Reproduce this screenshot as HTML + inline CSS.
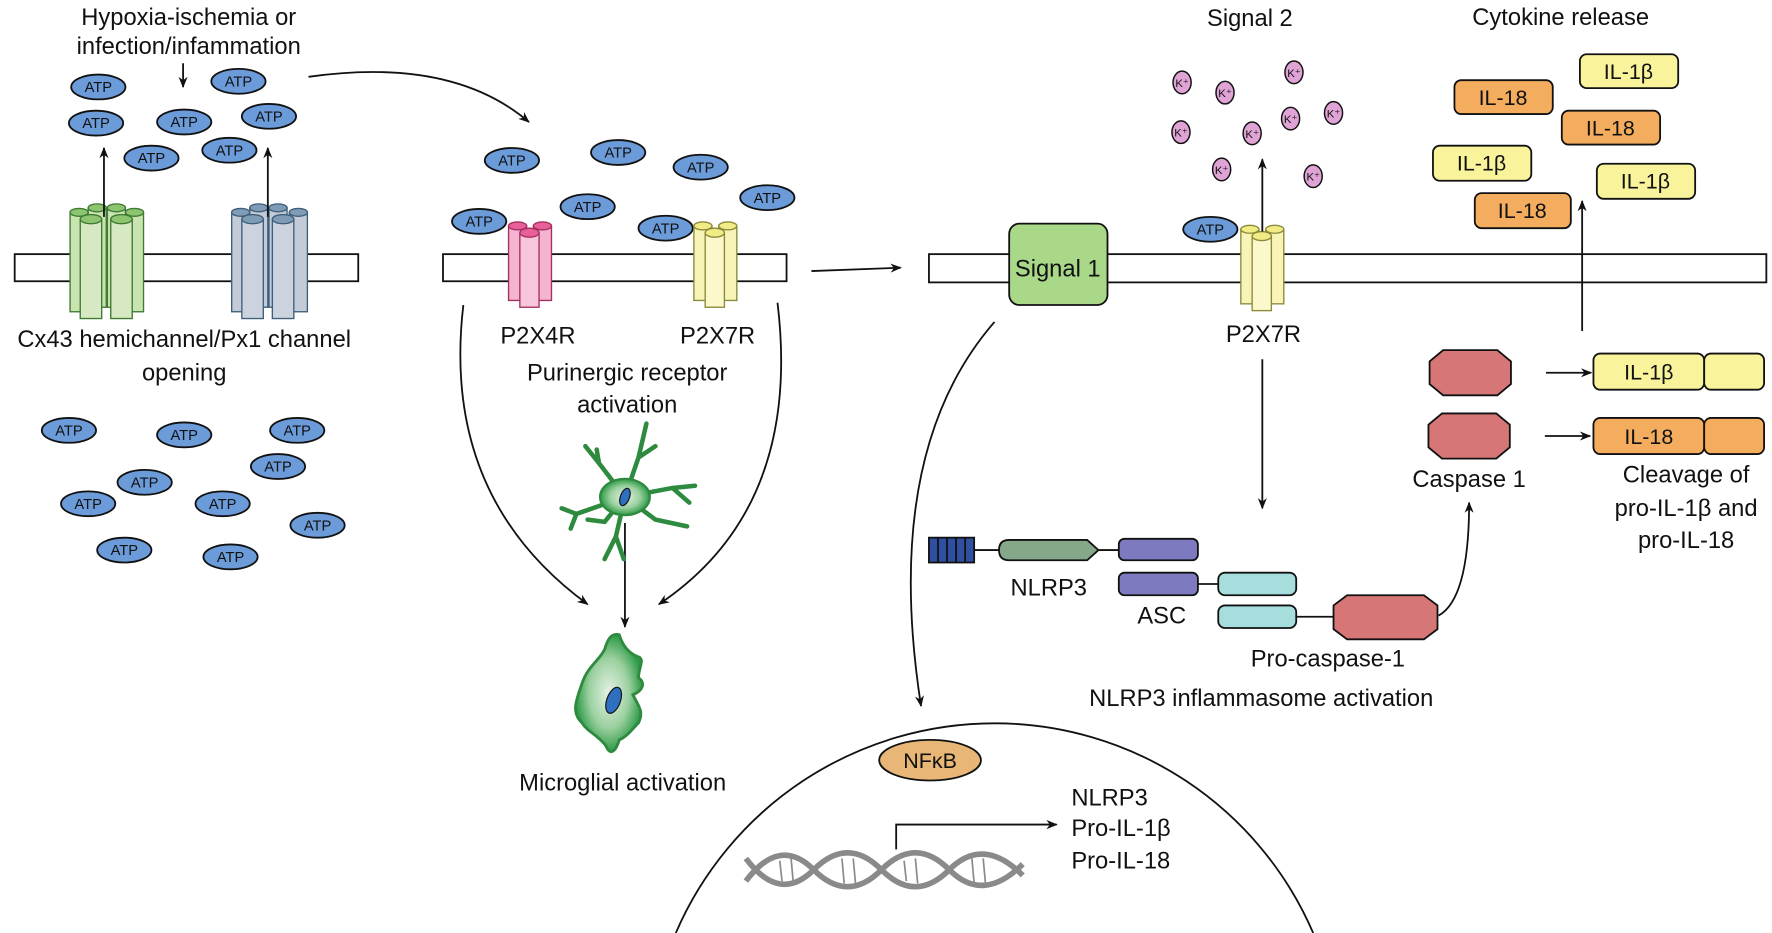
<!DOCTYPE html>
<html><head><meta charset="utf-8"><style>
html,body{margin:0;padding:0;background:#fff;}
svg{display:block;}
text{font-family:"Liberation Sans Narrow","Liberation Sans",sans-serif;fill:#111;}
</style></head><body>
<svg width="1772" height="933" viewBox="0 0 1568 826" preserveAspectRatio="none" xmlns="http://www.w3.org/2000/svg">
<defs>
<marker id="ah" markerWidth="10" markerHeight="10" refX="9" refY="5" orient="auto" markerUnits="userSpaceOnUse"><path d="M0,1 L10,5 L0,9 L3,5 Z" fill="#111"/></marker>
<radialGradient id="mg" cx="50%" cy="50%" r="50%"><stop offset="0" stop-color="#e6f2e6"/><stop offset="0.6" stop-color="#9bd09f"/><stop offset="1" stop-color="#2e9a48"/></radialGradient>
<g id="atp"><ellipse cx="0" cy="0" rx="24" ry="11" fill="#6b9bd8" stroke="#111" stroke-width="1.6"/><text x="0" y="4.5" font-size="13" text-anchor="middle">ATP</text></g>
<g id="kp"><ellipse cx="0" cy="0" rx="8" ry="10" fill="#e0a3d6" stroke="#111" stroke-width="1.3"/><text x="0" y="4" font-size="10" text-anchor="middle">K⁺</text></g>
</defs>
<g stroke="#111" stroke-width="1.6" fill="none">
<!-- membranes -->
<rect x="13" y="225" width="304" height="24" fill="#fff"/>
<rect x="392" y="225" width="304" height="24" fill="#fff"/>
<rect x="822" y="225" width="741" height="25" fill="#fff"/>
</g>
<text x="167" y="22" font-size="21" text-anchor="middle">Hypoxia-ischemia or</text>
<text x="167" y="48" font-size="21" text-anchor="middle">infection/infammation</text>
<line x1="162" y1="56" x2="162" y2="77" stroke="#111" stroke-width="1.6" marker-end="url(#ah)"/>
<use href="#atp" x="87" y="77"/><use href="#atp" x="211" y="72"/><use href="#atp" x="85" y="109"/><use href="#atp" x="163" y="108"/><use href="#atp" x="238" y="103"/><use href="#atp" x="134" y="140"/><use href="#atp" x="203" y="133"/>
<!-- green channel -->
<g stroke="#3f7a33" stroke-width="1.2">
<rect x="62" y="188" width="16" height="88" fill="#c9e4b0"/><rect x="111" y="188" width="16" height="88" fill="#c9e4b0"/>
<rect x="78" y="184" width="16" height="88" fill="#c9e4b0"/><rect x="95" y="184" width="16" height="88" fill="#c9e4b0"/>
<ellipse cx="86" cy="184" rx="8" ry="3.5" fill="#8cc46f"/><ellipse cx="103" cy="184" rx="8" ry="3.5" fill="#8cc46f"/>
<ellipse cx="70" cy="188" rx="8" ry="3.5" fill="#8cc46f"/><ellipse cx="119" cy="188" rx="8" ry="3.5" fill="#8cc46f"/>
<rect x="71" y="194" width="19" height="88" fill="#d6e9c3"/><rect x="98" y="194" width="19" height="88" fill="#d6e9c3"/>
<ellipse cx="80.5" cy="194" rx="9.5" ry="4" fill="#8cc46f"/><ellipse cx="107.5" cy="194" rx="9.5" ry="4" fill="#8cc46f"/>
</g>
<!-- blue channel -->
<g stroke="#3f5f7a" stroke-width="1.2">
<rect x="205" y="188" width="16" height="88" fill="#c3cbd8"/><rect x="256" y="188" width="16" height="88" fill="#c3cbd8"/>
<rect x="221" y="184" width="16" height="88" fill="#c3cbd8"/><rect x="238" y="184" width="16" height="88" fill="#c3cbd8"/>
<ellipse cx="229" cy="184" rx="8" ry="3.5" fill="#7f9cb6"/><ellipse cx="246" cy="184" rx="8" ry="3.5" fill="#7f9cb6"/>
<ellipse cx="213" cy="188" rx="8" ry="3.5" fill="#7f9cb6"/><ellipse cx="264" cy="188" rx="8" ry="3.5" fill="#7f9cb6"/>
<rect x="214" y="194" width="19" height="88" fill="#ccd3de"/><rect x="241" y="194" width="19" height="88" fill="#ccd3de"/>
<ellipse cx="223.5" cy="194" rx="9.5" ry="4" fill="#7f9cb6"/><ellipse cx="250.5" cy="194" rx="9.5" ry="4" fill="#7f9cb6"/>
</g>
<line x1="92" y1="192" x2="92" y2="131" stroke="#111" stroke-width="1.6" marker-end="url(#ah)"/>
<line x1="237" y1="192" x2="237" y2="131" stroke="#111" stroke-width="1.6" marker-end="url(#ah)"/>
<text x="163" y="307" font-size="21" text-anchor="middle">Cx43 hemichannel/Px1 channel</text>
<text x="163" y="337" font-size="21" text-anchor="middle">opening</text>
<use href="#atp" x="61" y="381"/><use href="#atp" x="163" y="385"/><use href="#atp" x="263" y="381"/><use href="#atp" x="246" y="413"/><use href="#atp" x="128" y="427"/><use href="#atp" x="78" y="446"/><use href="#atp" x="197" y="446"/><use href="#atp" x="281" y="465"/><use href="#atp" x="110" y="487"/><use href="#atp" x="204" y="493"/>
<path d="M273,68 Q400,50 468,108" stroke="#111" stroke-width="1.6" fill="none" marker-end="url(#ah)"/>
<!-- second panel -->
<use href="#atp" x="453" y="142"/><use href="#atp" x="547" y="135"/><use href="#atp" x="620" y="148"/><use href="#atp" x="520" y="183"/><use href="#atp" x="679" y="175"/><use href="#atp" x="424" y="196"/><use href="#atp" x="589" y="202"/>
<g stroke="#a53060" stroke-width="1.2">
<rect x="450" y="200" width="16" height="66" fill="#f4b4cf"/><rect x="472" y="200" width="16" height="66" fill="#f4b4cf"/>
<ellipse cx="458" cy="200" rx="8" ry="3.5" fill="#e8609a"/><ellipse cx="480" cy="200" rx="8" ry="3.5" fill="#e8609a"/>
<rect x="460" y="206" width="17" height="66" fill="#f8c6da"/><ellipse cx="468.5" cy="206" rx="8.5" ry="4" fill="#e8609a"/>
</g>
<g stroke="#8a8a3a" stroke-width="1.2">
<rect x="614" y="200" width="16" height="66" fill="#f8f4b8"/><rect x="636" y="200" width="16" height="66" fill="#f8f4b8"/>
<ellipse cx="622" cy="200" rx="8" ry="3.5" fill="#f2ec86"/><ellipse cx="644" cy="200" rx="8" ry="3.5" fill="#f2ec86"/>
<rect x="624" y="206" width="17" height="66" fill="#fbf8cc"/><ellipse cx="632.5" cy="206" rx="8.5" ry="4" fill="#f2ec86"/>
</g>
<text x="476" y="304" font-size="21" text-anchor="middle">P2X4R</text>
<text x="635" y="304" font-size="21" text-anchor="middle">P2X7R</text>
<text x="555" y="337" font-size="21" text-anchor="middle">Purinergic receptor</text>
<text x="555" y="365" font-size="21" text-anchor="middle">activation</text>
<path d="M410,270 Q390,440 520,535" stroke="#111" stroke-width="1.6" fill="none" marker-end="url(#ah)"/>
<path d="M688,268 Q710,450 583,535" stroke="#111" stroke-width="1.6" fill="none" marker-end="url(#ah)"/>
<line x1="553" y1="463" x2="553" y2="555" stroke="#111" stroke-width="1.6" marker-end="url(#ah)"/>
<!-- ramified microglia -->
<g stroke="#2e8a3e" stroke-width="4" fill="none" stroke-linecap="round">
<path d="M553,440 L510,455 M510,455 L497,450 M510,455 L505,468 M553,440 L530,410 L518,395 M530,410 L528,398 M553,440 L565,405 L572,375 M565,405 L580,395 M553,440 L595,432 L615,430 M595,432 L610,445 M553,440 L580,460 L608,466 M553,440 L545,475 L535,495 M545,475 L552,495 M553,440 L535,462 L520,460"/>
</g>
<ellipse cx="553" cy="440" rx="22" ry="16" fill="url(#mg)" stroke="#2e8a3e" stroke-width="2"/>
<ellipse cx="553" cy="440" rx="4" ry="8" transform="rotate(20 553 440)" fill="#2f6fc0" stroke="#111" stroke-width="1"/>
<!-- amoeboid -->
<path d="M515,605 C520,590 530,585 535,575 C537,568 540,560 548,562 C552,575 560,580 566,582 C570,585 565,592 565,600 C572,605 568,612 560,615 C565,625 570,630 565,640 C560,645 555,652 548,655 C545,665 540,670 536,660 C528,650 520,648 515,640 C505,630 510,620 515,605 Z" fill="url(#mg)" stroke="#2e8a3e" stroke-width="2.5"/>
<ellipse cx="543" cy="620" rx="6" ry="12" transform="rotate(20 543 620)" fill="#2f6fc0" stroke="#111" stroke-width="1"/>
<text x="551" y="700" font-size="21" text-anchor="middle">Microglial activation</text>
<line x1="718" y1="240" x2="797" y2="237" stroke="#111" stroke-width="1.6" marker-end="url(#ah)"/>
<!-- third panel -->
<rect x="893" y="198" width="87" height="72" rx="9" fill="#a8d888" stroke="#111" stroke-width="1.6"/>
<text x="936" y="245" font-size="21" text-anchor="middle">Signal 1</text>
<use href="#atp" x="1071" y="203"/>
<g stroke="#8a8a3a" stroke-width="1.2">
<rect x="1098" y="203" width="16" height="66" fill="#f8f4b8"/><rect x="1120" y="203" width="16" height="66" fill="#f8f4b8"/>
<ellipse cx="1106" cy="203" rx="8" ry="3.5" fill="#f2ec86"/><ellipse cx="1128" cy="203" rx="8" ry="3.5" fill="#f2ec86"/>
<rect x="1108" y="209" width="17" height="66" fill="#fbf8cc"/><ellipse cx="1116.5" cy="209" rx="8.5" ry="4" fill="#f2ec86"/>
</g>
<line x1="1117" y1="205" x2="1117" y2="141" stroke="#111" stroke-width="1.6" marker-end="url(#ah)"/>
<use href="#kp" x="1046" y="73"/><use href="#kp" x="1084" y="82"/><use href="#kp" x="1145" y="64"/><use href="#kp" x="1142" y="105"/><use href="#kp" x="1180" y="100"/><use href="#kp" x="1045" y="117"/><use href="#kp" x="1108" y="118"/><use href="#kp" x="1081" y="150"/><use href="#kp" x="1162" y="156"/>
<text x="1106" y="23" font-size="21" text-anchor="middle">Signal 2</text>
<text x="1381" y="22" font-size="21" text-anchor="middle">Cytokine release</text>
<g stroke="#111" stroke-width="1.6">
<rect x="1398" y="48" width="87" height="30" rx="6" fill="#f9f39c"/>
<rect x="1287" y="71" width="87" height="30" rx="6" fill="#f4ad5e"/>
<rect x="1382" y="98" width="87" height="30" rx="6" fill="#f4ad5e"/>
<rect x="1268" y="129" width="87" height="31" rx="6" fill="#f9f39c"/>
<rect x="1413" y="145" width="87" height="31" rx="6" fill="#f9f39c"/>
<rect x="1305" y="171" width="85" height="31" rx="6" fill="#f4ad5e"/>
</g>
<g font-size="19" text-anchor="middle">
<text x="1441" y="70">IL-1β</text><text x="1330" y="93">IL-18</text><text x="1425" y="120">IL-18</text><text x="1311" y="151">IL-1β</text><text x="1456" y="167">IL-1β</text><text x="1347" y="193">IL-18</text>
</g>
<line x1="1400" y1="293" x2="1400" y2="178" stroke="#111" stroke-width="1.6" marker-end="url(#ah)"/>
<text x="1118" y="303" font-size="21" text-anchor="middle">P2X7R</text>
<line x1="1117" y1="318" x2="1117" y2="450" stroke="#111" stroke-width="1.6" marker-end="url(#ah)"/>
<g fill="#d67676" stroke="#111" stroke-width="1.6">
<polygon points="1265,320 1277,310 1325,310 1337,320 1337,340 1325,350 1277,350 1265,340"/>
<polygon points="1264,376 1276,366 1324,366 1336,376 1336,396 1324,406 1276,406 1264,396"/>
<polygon points="1180,536 1192,527 1260,527 1272,536 1272,557 1260,566 1192,566 1180,557"/>
</g>
<line x1="1368" y1="330" x2="1408" y2="330" stroke="#111" stroke-width="1.6" marker-end="url(#ah)"/>
<line x1="1367" y1="386" x2="1407" y2="386" stroke="#111" stroke-width="1.6" marker-end="url(#ah)"/>
<g stroke="#111" stroke-width="1.6">
<rect x="1410" y="313" width="98" height="32" rx="6" fill="#f9f39c"/><rect x="1508" y="313" width="53" height="32" rx="6" fill="#f9f39c"/>
<rect x="1410" y="370" width="98" height="32" rx="6" fill="#f4ad5e"/><rect x="1508" y="370" width="53" height="32" rx="6" fill="#f4ad5e"/>
</g>
<text x="1459" y="336" font-size="19" text-anchor="middle">IL-1β</text>
<text x="1459" y="393" font-size="19" text-anchor="middle">IL-18</text>
<text x="1300" y="431" font-size="21" text-anchor="middle">Caspase 1</text>
<text x="1492" y="427" font-size="21" text-anchor="middle">Cleavage of</text>
<text x="1492" y="457" font-size="21" text-anchor="middle">pro-IL-1β and</text>
<text x="1492" y="485" font-size="21" text-anchor="middle">pro-IL-18</text>
<path d="M1273,545 Q1300,530 1300,445" stroke="#111" stroke-width="1.6" fill="none" marker-end="url(#ah)"/>
<!-- inflammasome -->
<g stroke="#111" stroke-width="1.6">
<line x1="862" y1="487" x2="990" y2="487"/><line x1="1060" y1="517" x2="1078" y2="517"/><line x1="1147" y1="546" x2="1180" y2="546"/>
<rect x="822" y="476" width="40" height="22" fill="#2f4fa0"/>
<line x1="830" y1="476" x2="830" y2="498"/><line x1="838" y1="476" x2="838" y2="498"/><line x1="846" y1="476" x2="846" y2="498"/><line x1="854" y1="476" x2="854" y2="498"/>
<path d="M893,478 L962,478 L972,487 L962,496 L893,496 Q884,496 884,487 Q884,478 893,478 Z" fill="#85a88a"/>
<rect x="990" y="477" width="70" height="19" rx="5" fill="#7d7ac0"/>
<rect x="990" y="507" width="70" height="20" rx="5" fill="#7d7ac0"/>
<rect x="1078" y="507" width="69" height="20" rx="6" fill="#a6dede"/>
<rect x="1078" y="536" width="69" height="20" rx="6" fill="#a6dede"/>
</g>
<text x="928" y="527" font-size="21" text-anchor="middle">NLRP3</text>
<text x="1028" y="552" font-size="21" text-anchor="middle">ASC</text>
<text x="1175" y="590" font-size="21" text-anchor="middle">Pro-caspase-1</text>
<text x="1116" y="625" font-size="21" text-anchor="middle">NLRP3 inflammasome activation</text>
<path d="M880,285 Q780,400 815,625" stroke="#111" stroke-width="1.6" fill="none" marker-end="url(#ah)"/>
<!-- nucleus -->
<path d="M598,826 A307,307 0 0 1 1162,826" stroke="#111" stroke-width="1.6" fill="none"/>
<ellipse cx="823" cy="673" rx="45" ry="18" fill="#e8b777" stroke="#111" stroke-width="1.6"/>
<text x="823" y="680" font-size="19" text-anchor="middle">NFκB</text>
<path d="M793,752 L793,730 L935,730" stroke="#111" stroke-width="1.6" fill="none" marker-end="url(#ah)"/>
<g stroke="#8a8a8a" stroke-width="5" fill="none">
<path d="M660,780 Q690,740 720,770 Q750,800 780,770 Q810,740 840,770 Q870,800 905,765"/>
<path d="M660,760 Q690,800 720,770 Q750,740 780,770 Q810,800 840,770 Q870,740 905,775"/>
</g>
<g stroke="#8a8a8a" stroke-width="1.5">
<line x1="690" y1="762" x2="692" y2="780"/><line x1="700" y1="760" x2="702" y2="782"/><line x1="745" y1="760" x2="747" y2="782"/><line x1="755" y1="760" x2="757" y2="782"/><line x1="800" y1="762" x2="802" y2="780"/><line x1="810" y1="760" x2="812" y2="782"/><line x1="860" y1="760" x2="862" y2="782"/><line x1="870" y1="760" x2="872" y2="782"/>
</g>
<text x="948" y="713" font-size="21">NLRP3</text>
<text x="948" y="740" font-size="21">Pro-IL-1β</text>
<text x="948" y="769" font-size="21">Pro-IL-18</text>
</svg>
</body></html>
